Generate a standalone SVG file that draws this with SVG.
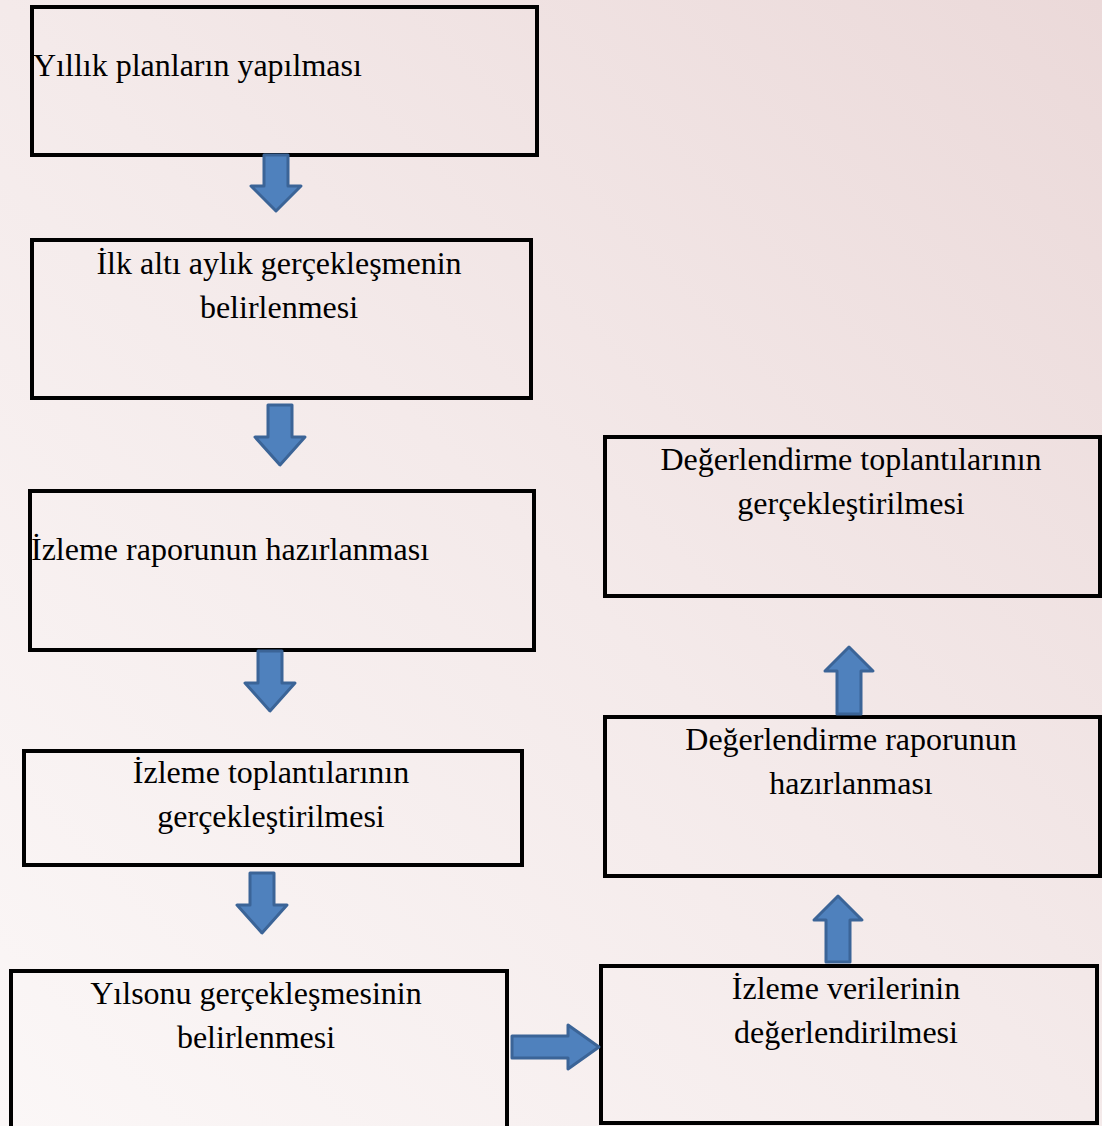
<svg xmlns="http://www.w3.org/2000/svg" width="1102" height="1126" viewBox="0 0 1102 1126">
<style>
.box{fill:none;stroke:#000;stroke-width:4}
.t{font-family:'Liberation Serif',Tinos,'Times New Roman','DejaVu Serif',serif;font-size:32px;fill:#000}
.c{text-anchor:middle}
.arr{fill:#4f81bd;stroke:#3b6497;stroke-width:3;stroke-linejoin:round}
</style>
<defs>
<linearGradient id="bg" x1="1" y1="0" x2="0" y2="1">
<stop offset="0" stop-color="#ebd9d9"/>
<stop offset="0.5" stop-color="#f4eaea"/>
<stop offset="1" stop-color="#fbf7f7"/>
</linearGradient>
</defs>
<rect width="1102" height="1126" fill="url(#bg)"/>
<g id="n1"><rect class="box" x="32" y="7" width="505" height="148"/><text class="t" x="33" y="76">Yıllık planların yapılması</text></g>
<g id="n2"><rect class="box" x="32" y="240" width="499" height="158"/><text class="t c" x="279" y="274">İlk altı aylık gerçekleşmenin</text><text class="t c" x="279" y="318">belirlenmesi</text></g>
<g id="n3"><rect class="box" x="30" y="491" width="504" height="159"/><text class="t" x="31" y="560">İzleme raporunun hazırlanması</text></g>
<g id="n4"><rect class="box" x="24" y="751" width="498" height="114"/><text class="t c" x="271" y="783">İzleme toplantılarının</text><text class="t c" x="271" y="827">gerçekleştirilmesi</text></g>
<g id="n5"><rect class="box" x="11" y="971" width="496" height="170"/><text class="t c" x="256" y="1004">Yılsonu gerçekleşmesinin</text><text class="t c" x="256" y="1048">belirlenmesi</text></g>
<g id="n6"><rect class="box" x="601" y="966" width="496" height="157"/><text class="t c" x="846" y="999">İzleme verilerinin</text><text class="t c" x="846" y="1043">değerlendirilmesi</text></g>
<g id="n7"><rect class="box" x="605" y="717" width="495" height="159"/><text class="t c" x="851" y="750">Değerlendirme raporunun</text><text class="t c" x="851" y="794">hazırlanması</text></g>
<g id="n8"><rect class="box" x="605" y="437" width="495" height="159"/><text class="t c" x="851" y="470">Değerlendirme toplantılarının</text><text class="t c" x="851" y="514">gerçekleştirilmesi</text></g>
<g id="connectors">
<path class="arr" d="M264,155 H288 V186 H301 L276,211 L251,186 H264 Z"/>
<path class="arr" d="M268,405 H292 V437 H305 L280,465 L255,437 H268 Z"/>
<path class="arr" d="M258,651 H282 V683 H295 L270,711 L245,683 H258 Z"/>
<path class="arr" d="M250,873 H274 V905 H287 L262,933 L237,905 H250 Z"/>
<path class="arr" d="M512,1036 H568 V1025 L599,1047 L568,1069 V1058 H512 Z"/>
<path class="arr" d="M826,962 V920 H814 L838,896 L862,920 H850 V962 Z"/>
<path class="arr" d="M837,714 V671 H825 L849,647 L873,671 H861 V714 Z"/>
</g>
</svg>
